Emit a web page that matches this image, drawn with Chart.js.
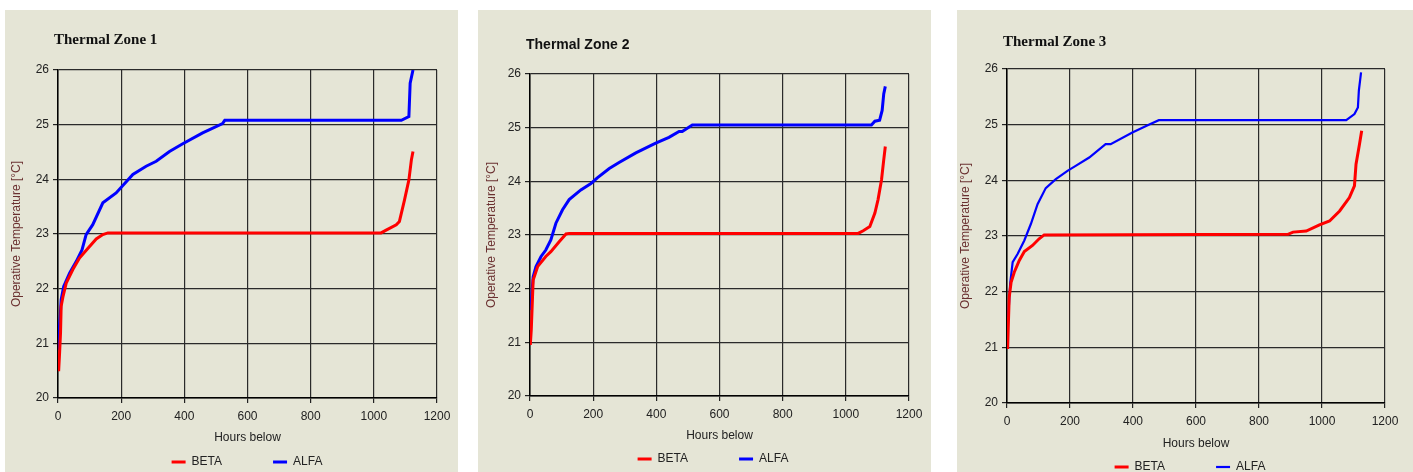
<!DOCTYPE html>
<html>
<head>
<meta charset="utf-8">
<script src="https://cdn.jsdelivr.net/npm/chart.js@4.4.1/dist/chart.umd.min.js"></script>
<style>
  html, body { margin: 0; padding: 0; background: #fff; overflow: hidden; }
  body { width: 1413px; height: 472px; position: relative; }
  .panel { position: absolute; top: 10px; height: 462px; background: #e5e5d6; overflow: hidden; }
  .panel canvas { position: absolute; left: 0; top: 0; }
</style>
</head>
<body>
<div class="panel" style="left:5px;width:453px"><canvas id="zone1" width="453" height="508"></canvas></div>
<div class="panel" style="left:478px;width:453px"><canvas id="zone2" width="453" height="506"></canvas></div>
<div class="panel" style="left:957px;width:456px"><canvas id="zone3" width="456" height="514"></canvas></div>
<script>
// ===== DATA: hours below (x) / operative temperature (y) =====
const z1BetaHours = [2, 5, 8, 10, 16, 26, 47, 68, 95, 121, 142, 158, 1023, 1039, 1071, 1081, 1097, 1111, 1119, 1124];
const z1BetaTemp  = [20.49, 20.82, 21.19, 21.68, 21.86, 22.1, 22.35, 22.56, 22.74, 22.91, 22.99, 23.02, 23.02, 23.07, 23.17, 23.23, 23.62, 23.99, 24.36, 24.51];
const z1AlfaHours = [1, 2, 7, 10, 18, 37, 58, 76, 89, 110, 142, 184, 237, 279, 311, 353, 395, 458, 521, 528, 1087, 1111, 1115, 1124];
const z1AlfaTemp  = [20.9, 21.12, 21.5, 21.8, 22.04, 22.29, 22.5, 22.71, 22.99, 23.17, 23.57, 23.75, 24.09, 24.24, 24.33, 24.51, 24.65, 24.85, 25.02, 25.08, 25.08, 25.15, 25.76, 26.0];

const z2BetaHours = [1, 4, 8, 10, 24, 50, 66, 93, 114, 124, 1039, 1055, 1076, 1092, 1102, 1113, 1120, 1125];
const z2BetaTemp  = [20.95, 21.23, 21.85, 22.16, 22.41, 22.6, 22.69, 22.88, 23.02, 23.03, 23.03, 23.08, 23.16, 23.41, 23.66, 24.03, 24.4, 24.65];
const z2AlfaHours = [3, 6, 10, 19, 35, 50, 66, 82, 103, 124, 161, 193, 214, 251, 282, 335, 398, 440, 472, 482, 514, 1081, 1092, 1107, 1115, 1120, 1125];
const z2AlfaTemp  = [21.6, 21.91, 22.22, 22.41, 22.6, 22.72, 22.91, 23.22, 23.47, 23.66, 23.84, 23.96, 24.07, 24.24, 24.35, 24.53, 24.71, 24.82, 24.93, 24.93, 25.05, 25.05, 25.12, 25.14, 25.32, 25.63, 25.77];

const z3BetaHours = [2, 4, 7, 13, 23, 39, 55, 81, 102, 118, 892, 908, 950, 992, 1024, 1056, 1087, 1103, 1108, 1119, 1126];
const z3BetaTemp  = [20.97, 21.36, 21.9, 22.17, 22.35, 22.56, 22.72, 22.83, 22.95, 23.02, 23.03, 23.07, 23.09, 23.2, 23.27, 23.45, 23.69, 23.9, 24.29, 24.65, 24.89];
const z3AlfaHours = [4, 7, 10, 18, 34, 55, 76, 97, 123, 155, 192, 218, 261, 313, 329, 398, 450, 482, 1077, 1103, 1114, 1117, 1124];
const z3AlfaTemp  = [21.54, 21.84, 22.14, 22.53, 22.68, 22.92, 23.22, 23.57, 23.86, 24.02, 24.17, 24.26, 24.41, 24.65, 24.65, 24.86, 25.0, 25.08, 25.08, 25.19, 25.31, 25.61, 25.94];

const seriesNames = ['BETA', 'ALFA'];
const zoneTitles = ['Thermal Zone 1', 'Thermal Zone 2', 'Thermal Zone 3'];

const toPoints = (hours, temps) => hours.map((h, i) => ({ x: h, y: temps[i] }));

// ===== PLACE TITLE AND LEGEND =====
// the title starts over the tick labels and the legend row sits centred under the plot
const place = {
  id: 'place',
  afterLayout(chart, args, o) {
    const t = chart.titleBlock;
    t.left = o.titleX;
    t.right = o.titleX + 300;
    const l = chart.legend;
    const lab = l.options.labels;
    const dy = o.legendY - (l.top + lab.padding + lab.font.size / 2);
    const dx = o.legendX - (l.left + l.right) / 2;
    l.top += dy; l.bottom += dy;
    l.left += dx; l.right += dx;
  }
};

const sans = 'Liberation Sans, Arial, sans-serif';
const serif = 'Liberation Serif, Times New Roman, serif';

function zoneChart(id, title, beta, alfa, g) {
  new Chart(document.getElementById(id), {
    type: 'line',
    data: {
      datasets: [
        { label: seriesNames[0], data: beta, borderColor: '#ff0000', backgroundColor: '#ff0000', borderWidth: 3 },
        { label: seriesNames[1], data: alfa, borderColor: '#0000ff', backgroundColor: '#0000ff', borderWidth: g.alfaWidth }
      ]
    },
    options: {
      responsive: false,
      animation: false,
      elements: { point: { radius: 0 }, line: { tension: 0 } },
      layout: { padding: { right: g.padRight } },
      plugins: {
        title: { display: true, text: title, align: 'start', color: '#111', font: g.titleFont, padding: g.titlePad },
        legend: {
          position: 'bottom',
          labels: {
            usePointStyle: true, pointStyle: 'line', pointStyleWidth: 14,
            padding: 51, color: '#222', font: { family: sans, size: 12 }
          }
        },
        tooltip: { enabled: false },
        place: { titleX: g.titleX, legendX: g.legendX, legendY: g.legendY }
      },
      scales: {
        x: {
          type: 'linear', min: 0, max: 1200,
          ticks: { stepSize: 200, color: '#222', padding: 6, format: { useGrouping: false }, font: { family: sans, size: 12 } },
          grid: { color: '#2a2a2a', lineWidth: 1.2, tickLength: 5, tickColor: '#222' },
          border: { color: '#000', width: 1.5 },
          title: { display: true, text: 'Hours below', color: '#222', font: { family: sans, size: 12 }, padding: 0 },
          afterFit: s => { s.height = g.xHeight; }
        },
        y: {
          min: 20, max: 26,
          ticks: { stepSize: 1, color: '#222', padding: 4, font: { family: sans, size: 12 } },
          grid: { color: '#2a2a2a', lineWidth: 1.2, tickLength: 5, tickColor: '#222' },
          border: { color: '#000', width: 1.5 },
          title: { display: true, text: 'Operative Temperature [°C]', color: '#6a3030', font: { family: sans, size: 12 }, padding: { top: g.yTitlePad, bottom: 0 } },
          afterFit: s => { s.width = g.left; }
        }
      }
    },
    plugins: [place]
  });
}

// ===== THREE ZONES =====
zoneChart('zone1', zoneTitles[0], toPoints(z1BetaHours, z1BetaTemp), toPoints(z1AlfaHours, z1AlfaTemp), {
  left: 53, padRight: 21, xHeight: 47, yTitlePad: 4.8, alfaWidth: 3,
  titleX: 49, titleFont: { family: serif, size: 15, weight: 'bold' }, titlePad: { top: 21, bottom: 21 },
  legendX: 242, legendY: 452
});
zoneChart('zone2', zoneTitles[1], toPoints(z2BetaHours, z2BetaTemp), toPoints(z2AlfaHours, z2AlfaTemp), {
  left: 52, padRight: 22, xHeight: 47, yTitlePad: 6.8, alfaWidth: 3,
  titleX: 48, titleFont: { family: sans, size: 14, weight: 'bold' }, titlePad: { top: 26.6, bottom: 20.6 },
  legendX: 235, legendY: 449
});
zoneChart('zone3', zoneTitles[2], toPoints(z3BetaHours, z3BetaTemp), toPoints(z3AlfaHours, z3AlfaTemp), {
  left: 50, padRight: 28, xHeight: 48, yTitlePad: 1.8, alfaWidth: 2.2,
  titleX: 46, titleFont: { family: serif, size: 15, weight: 'bold' }, titlePad: { top: 23, bottom: 18 },
  legendX: 233, legendY: 457
});
</script>
</body>
</html>
